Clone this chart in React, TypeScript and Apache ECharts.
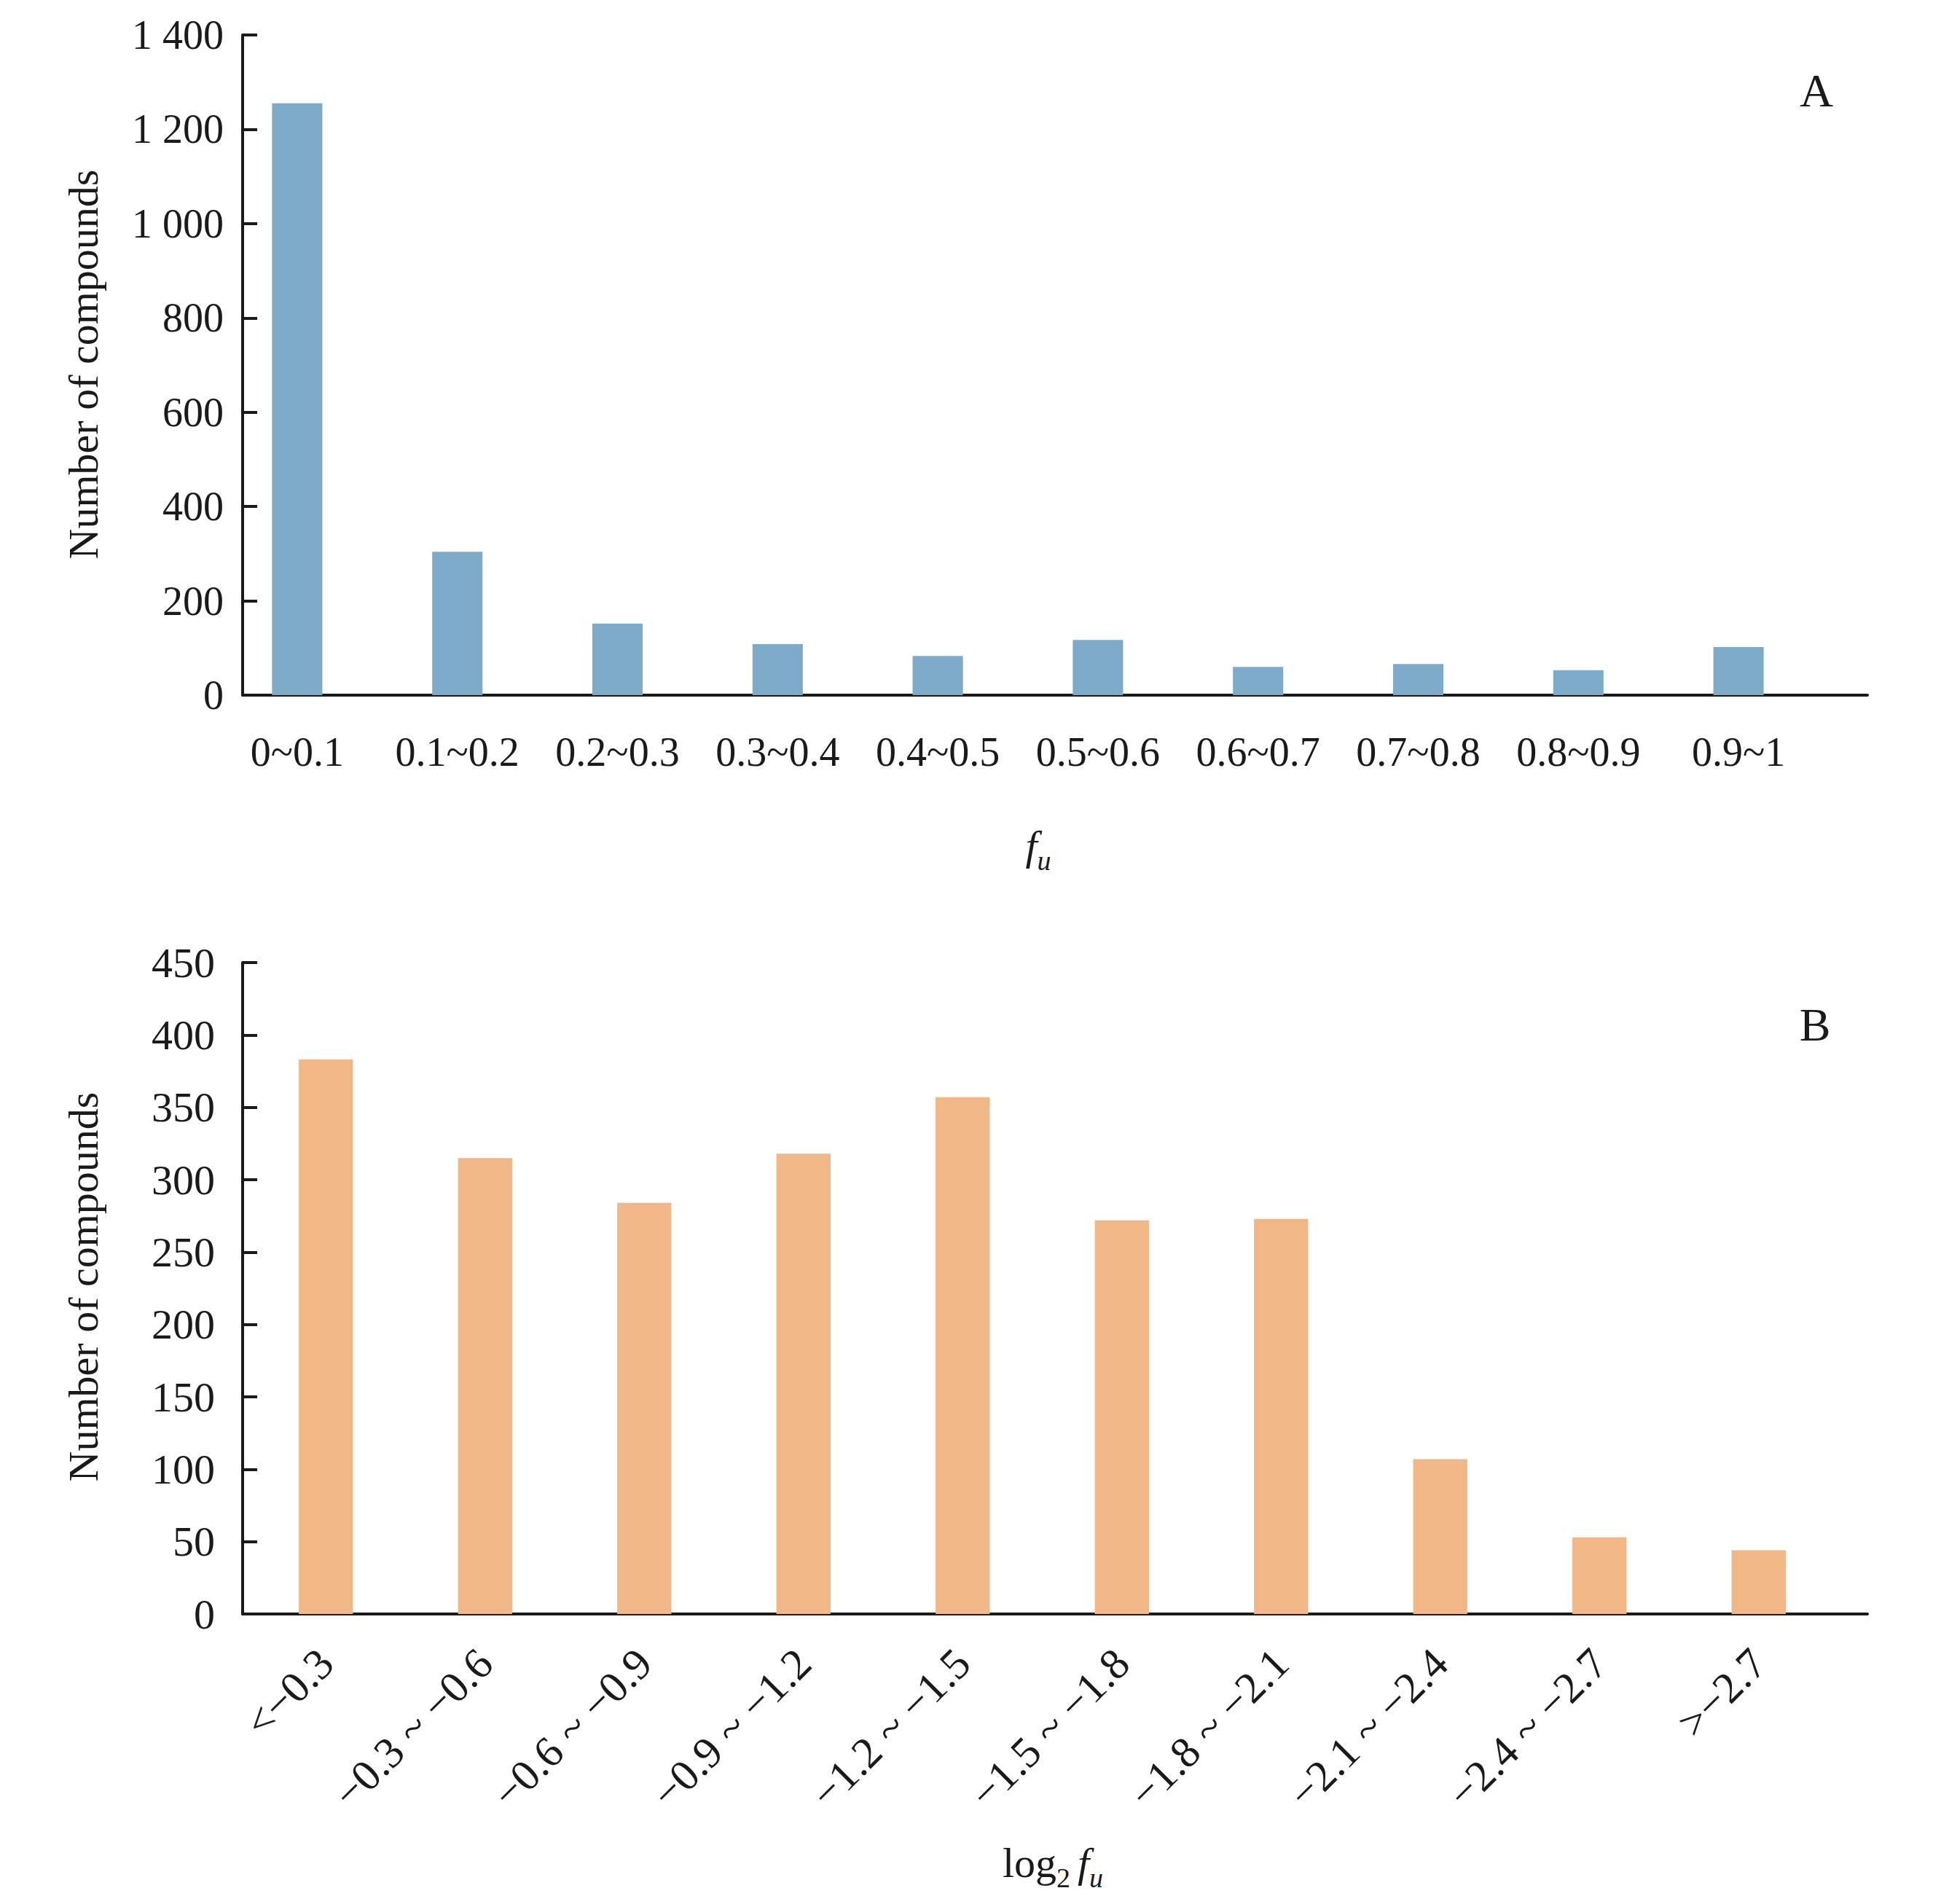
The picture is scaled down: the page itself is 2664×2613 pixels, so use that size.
import React, { useEffect, useRef } from "react";
import * as echarts from "echarts";

const catsA = ["0~0.1", "0.1~0.2", "0.2~0.3", "0.3~0.4", "0.4~0.5", "0.5~0.6", "0.6~0.7", "0.7~0.8", "0.8~0.9", "0.9~1"];
const valsA = [1255, 304, 152, 108, 83, 117, 60, 66, 53, 102];
const maxA = 1400;
const stepA = 200;

const catsB = ["<\u22120.3", "\u22120.3 ~ \u22120.6", "\u22120.6 ~ \u22120.9", "\u22120.9 ~ \u22121.2", "\u22121.2 ~ \u22121.5", "\u22121.5 ~ \u22121.8", "\u22121.8 ~ \u22122.1", "\u22122.1 ~ \u22122.4", "\u22122.4 ~ \u22122.7", ">\u22122.7"];
const valsB = [383, 315, 284, 318, 357, 272, 273, 107, 53, 44];
const maxB = 450;
const stepB = 50;

const FONT = '"Liberation Serif", "Times New Roman", serif';
const INK = "#1a1a1a";

function fmtThousands(v: number): string {
  if (v >= 1000) {
    const k = Math.floor(v / 1000);
    const r = String(v % 1000).padStart(3, "0");
    return k + " " + r;
  }
  return String(v);
}

export default function App() {
  const ref = useRef<HTMLDivElement>(null);
  useEffect(() => {
    if (!ref.current) return;
    const chart = echarts.init(ref.current, undefined, { renderer: "svg" });
    const hidden = { show: false };
    const frameX = (gi: number) => ({
      type: "value",
      gridIndex: gi,
      min: 0,
      max: 1,
      axisLine: { show: true, lineStyle: { color: INK, width: 4 } },
      axisTick: hidden,
      axisLabel: hidden,
      splitLine: hidden,
    });
    const frameY = (gi: number, max: number, step: number, fs: number, margin: number, fmt?: (v: number) => string) => ({
      type: "value",
      gridIndex: gi,
      min: 0,
      max,
      interval: step,
      axisLine: { show: true, onZero: false, lineStyle: { color: INK, width: 4 } },
      axisTick: { show: true, inside: true, length: 20, lineStyle: { color: INK, width: 4 } },
      axisLabel: { show: true, color: INK, fontFamily: FONT, fontSize: fs, margin, formatter: fmt },
      splitLine: hidden,
    });
    const barY = (gi: number, max: number) => ({
      type: "value",
      gridIndex: gi,
      min: 0,
      max,
      show: false,
      splitLine: hidden,
    });
    const option = {
      animation: false,
      backgroundColor: "#ffffff",
      grid: [
        { left: 333, top: 48, width: 2230, height: 906 },
        { left: 298, top: 48, width: 2198, height: 906 },
        { left: 333, top: 1321, width: 2230, height: 894 },
        { left: 338, top: 1321, width: 2185, height: 894 },
      ],
      xAxis: [
        frameX(0),
        {
          type: "category",
          gridIndex: 1,
          data: catsA,
          axisLine: hidden,
          axisTick: hidden,
          splitLine: hidden,
          axisLabel: { color: INK, fontFamily: FONT, fontSize: 56, margin: 50, interval: 0 },
        },
        frameX(2),
        {
          type: "category",
          gridIndex: 3,
          data: catsB,
          axisLine: hidden,
          axisTick: hidden,
          splitLine: hidden,
          axisLabel: { color: INK, fontFamily: FONT, fontSize: 60, margin: 58, interval: 0, rotate: 45 },
        },
      ],
      yAxis: [
        frameY(0, maxA, stepA, 56, 26, fmtThousands),
        barY(1, maxA),
        frameY(2, maxB, stepB, 58, 38),
        barY(3, maxB),
      ],
      series: [
        {
          type: "bar",
          xAxisIndex: 1,
          yAxisIndex: 1,
          data: valsA,
          barWidth: "31.4%",
          itemStyle: { color: "#7eaac9" },
          z: 1,
        },
        {
          type: "bar",
          xAxisIndex: 3,
          yAxisIndex: 3,
          data: valsB,
          barWidth: "34%",
          itemStyle: { color: "#f2b787" },
          z: 1,
        },
      ],
      graphic: [
        {
          type: "text",
          x: 114,
          y: 500,
          rotation: Math.PI / 2,
          style: { text: "Number of compounds", fill: INK, font: `58px ${FONT}`, align: "center", verticalAlign: "middle" },
        },
        {
          type: "text",
          x: 114,
          y: 1766,
          rotation: Math.PI / 2,
          style: { text: "Number of compounds", fill: INK, font: `58px ${FONT}`, align: "center", verticalAlign: "middle" },
        },
        {
          type: "text",
          x: 2493,
          y: 124,
          style: { text: "A", fill: INK, font: `64px ${FONT}`, align: "center", verticalAlign: "middle" },
        },
        {
          type: "text",
          x: 2491,
          y: 1406,
          style: { text: "B", fill: INK, font: `64px ${FONT}`, align: "center", verticalAlign: "middle" },
        },
        {
          type: "text",
          x: 1425,
          y: 1160,
          style: {
            text: "{i|f}{s|u}",
            fill: INK,
            align: "center",
            verticalAlign: "middle",
            rich: {
              i: { fontFamily: FONT, fontStyle: "italic", fontSize: 58, lineHeight: 80, fill: INK },
              s: { fontFamily: FONT, fontStyle: "italic", fontSize: 38, lineHeight: 38, verticalAlign: "bottom", fill: INK },
            },
          },
        },
        {
          type: "text",
          x: 1445,
          y: 2556,
          style: {
            text: "{r|log}{d|2}{sp| }{i|f}{s|u}",
            fill: INK,
            align: "center",
            verticalAlign: "middle",
            rich: {
              r: { fontFamily: FONT, fontSize: 58, lineHeight: 80, fill: INK },
              d: { fontFamily: FONT, fontSize: 38, lineHeight: 38, verticalAlign: "bottom", fill: INK },
              sp: { fontFamily: FONT, fontSize: 40, lineHeight: 80, fill: INK },
              i: { fontFamily: FONT, fontStyle: "italic", fontSize: 58, lineHeight: 80, fill: INK },
              s: { fontFamily: FONT, fontStyle: "italic", fontSize: 38, lineHeight: 38, verticalAlign: "bottom", fill: INK },
            },
          },
        },
      ],
    };
    chart.setOption(option as any);
    return () => chart.dispose();
  }, []);
  return (
    <div
      ref={ref}
      style={{ position: "absolute", left: 0, top: 0, width: 2664, height: 2613, background: "#fff" }}
    />
  );
}
